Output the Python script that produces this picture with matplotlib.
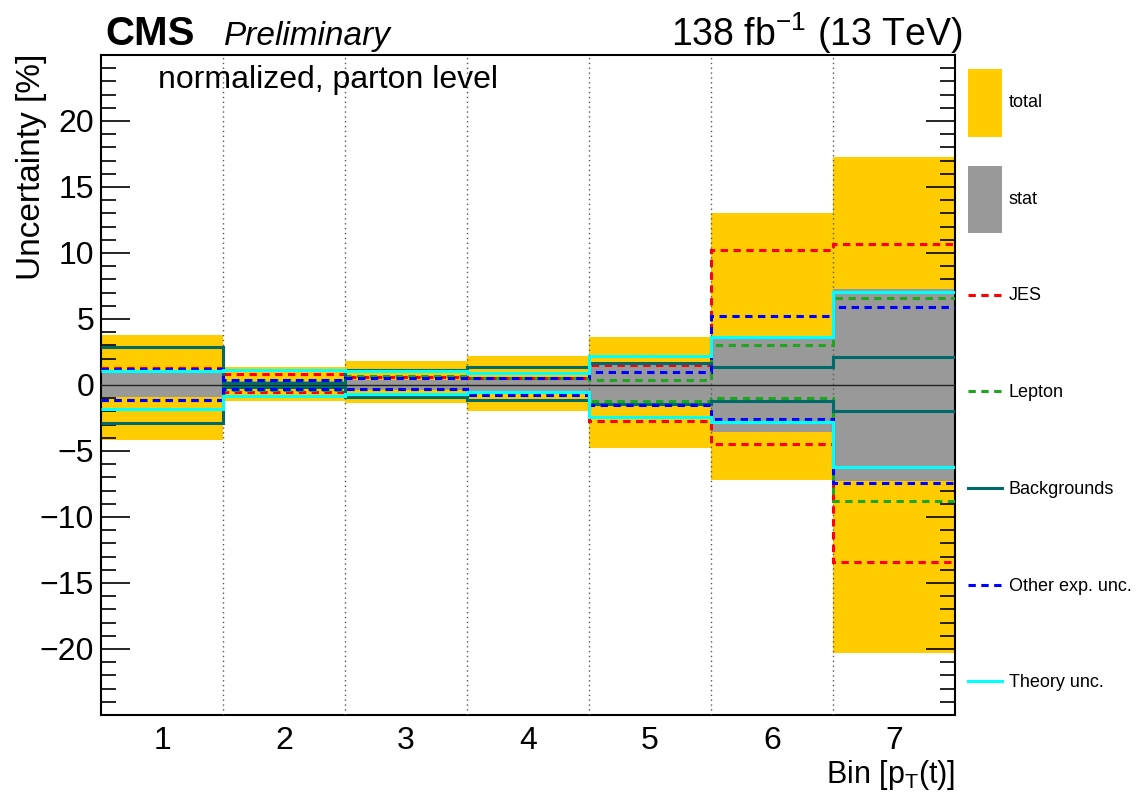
"""
CMS-style uncertainty breakdown per pT(t) bin (normalized, parton level).
Writes out.png
"""

import numpy as np
import matplotlib

matplotlib.use("Agg")
import matplotlib.pyplot as plt
import matplotlib.patches as mpatches
from matplotlib.lines import Line2D
from matplotlib.legend_handler import HandlerLine2D
from matplotlib.ticker import MultipleLocator, FixedLocator

plt.rcParams["font.family"] = ["Liberation Sans", "DejaVu Sans"]
plt.rcParams["mathtext.fontset"] = "custom"
plt.rcParams["mathtext.rm"] = "Liberation Sans"
plt.rcParams["mathtext.it"] = "Liberation Sans:italic"

# ---------- data (percent) ----------
bins = [1, 2, 3, 4, 5, 6, 7]
total_up = [3.8, 1.4, 1.8, 2.2, 3.6, 13.0, 17.3]
total_down = [-4.2, -1.2, -1.4, -2.0, -4.8, -7.2, -20.3]
stat = [0.9, 0.3, 0.35, 0.5, 1.55, 3.55, 7.3]

jes_up = [1.3, 0.85, 0.6, 0.55, 1.5, 10.2, 10.65]
jes_down = [-1.1, -0.5, -0.3, -0.75, -2.75, -4.5, -13.4]
lep_up = [1.15, 0.4, 0.65, 0.5, 0.35, 3.0, 6.6]
lep_down = [-1.1, -0.35, -0.3, -0.75, -1.2, -1.0, -8.8]
bkg_up = [2.85, 0.15, 1.15, 1.33, 1.65, 1.4, 2.1]
bkg_down = [-2.85, -0.15, -0.9, -1.1, -1.45, -1.2, -2.0]
other_up = [1.2, 0.4, 0.55, 0.55, 1.0, 5.2, 5.9]
other_down = [-1.15, -0.33, -0.28, -0.75, -1.55, -2.6, -7.45]
theory_up = [1.08, 1.15, 1.05, 0.9, 2.2, 3.6, 7.05]
theory_down = [-1.8, -0.8, -0.65, -0.5, -2.45, -2.8, -6.2]

y_major = [-20, -15, -10, -5, 0, 5, 10, 15, 20]

# ---------- styles ----------
C_TOTAL = "#ffcc00"
C_STAT = "#999999"
DASH = (0, (2.4, 1.8))
sources = [
    ("JES", jes_up, jes_down, "#ff0000", DASH),
    ("Lepton", lep_up, lep_down, "#1fa51f", DASH),
    ("Backgrounds", bkg_up, bkg_down, "#006a6a", "-"),
    ("Other exp. unc.", other_up, other_down, "#0000ff", DASH),
    ("Theory unc.", theory_up, theory_down, "#00ffff", "-"),
]

W, H = 1136, 802


class LowLineHandler(HandlerLine2D):
    """legend line drawn level with its label (tall handle boxes)"""

    def create_artists(self, legend, orig_handle, xdescent, ydescent,
                       width, height, fontsize, trans):
        arts = super().create_artists(legend, orig_handle, xdescent, ydescent,
                                      width, height, fontsize, trans)
        for a in arts:
            a.set_ydata(np.asarray(a.get_ydata()) - 9.5)
        return arts


def main():
    fig = plt.figure(figsize=(W / 100, H / 100), dpi=100)
    ax = fig.add_axes([101 / W, (H - 715) / H, (955 - 101) / W, (715 - 55) / H])

    x = np.array(bins)
    edges = np.append(x - 0.5, x[-1] + 0.5)
    t_up, t_dn = np.array(total_up), np.array(total_down)
    st = np.array(stat)

    # ---------- 1) bands ----------
    ax.bar(x, t_up - t_dn, bottom=t_dn, width=1.0, color=C_TOTAL,
           lw=0, zorder=1)
    ax.bar(x, 2 * st, bottom=-st, width=1.0, color=C_STAT, lw=0, zorder=2)

    # zero line + bin separators
    ax.axhline(0, color="#222222", lw=1.0, zorder=3)
    for e in edges[1:-1]:
        ax.axvline(e, color="#555555", lw=1.0, ls=(0, (1, 2.5)), zorder=3)

    # ---------- 2) individual sources ----------
    for i, (name, up, dn, col, ls) in enumerate(sources):
        for vals in (up, dn):
            ax.stairs(vals, edges, baseline=None, color=col, lw=2.2,
                      linestyle=ls, zorder=4 + i)

    # ---------- 3) axes ----------
    ax.set_xlim(edges[0], edges[-1])
    ax.set_ylim(-25, 25)
    ax.set_xticks(x)
    ax.set_xticklabels([str(b) for b in bins])
    ax.tick_params(axis="x", length=0, labelsize=23, pad=8)
    ax.yaxis.set_major_locator(FixedLocator(y_major))
    ax.yaxis.set_minor_locator(MultipleLocator(1))
    ax.tick_params(axis="y", which="both", direction="in",
                   left=True, right=True, labelsize=23, pad=5)
    ax.tick_params(axis="y", which="major", length=21, width=1.2)
    ax.tick_params(axis="y", which="minor", length=10.5, width=1.2)
    for sp in ax.spines.values():
        sp.set_linewidth(1.5)

    # ---------- 4) labels ----------
    fig.text(32 / W, 1 - 54 / H, "Uncertainty [%]", rotation=90,
             ha="center", va="top", fontsize=24)
    fig.text(955 / W, 1 - 783 / H, r"Bin [p$_{\mathrm{T}}$(t)]",
             ha="right", va="baseline", fontsize=22)
    fig.text(105 / W, 1 - 45 / H, "CMS", fontsize=29, fontweight="bold",
             va="baseline")
    fig.text(224 / W, 1 - 45 / H, "Preliminary", fontsize=24,
             style="italic", va="baseline")
    fig.text(963 / W, 1 - 46 / H, r"138 fb$^{-1}$ (13 TeV)", fontsize=27,
             ha="right", va="baseline")
    fig.text(158 / W, 1 - 88 / H, "normalized, parton level", fontsize=23,
             va="baseline")

    # ---------- 5) legend (outside, right) ----------
    handles = [
        mpatches.Patch(facecolor=C_TOTAL, edgecolor="none", label="total"),
        mpatches.Patch(facecolor=C_STAT, edgecolor="none", label="stat"),
    ]
    for name, up, dn, col, ls in sources:
        handles.append(Line2D([0], [0], color=col, lw=2.2, ls=ls, label=name))
    fig.legend(handles=handles, loc="upper left",
               bbox_to_anchor=(968 / W, 1 - 69 / H),
               bbox_transform=fig.transFigure, frameon=False,
               fontsize=13, handlelength=1.9, handleheight=5.4,
               labelspacing=1.6, handletextpad=0.35,
               borderpad=0, borderaxespad=0,
               handler_map={Line2D: LowLineHandler()})

    fig.savefig("out.png", dpi=100, facecolor="white")
    plt.close(fig)


if __name__ == "__main__":
    main()
